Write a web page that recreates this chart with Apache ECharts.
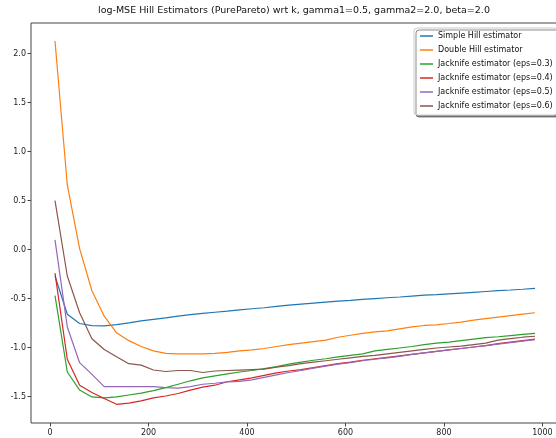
<!DOCTYPE html>
<html>
<head>
<meta charset="utf-8">
<script src="https://cdn.jsdelivr.net/npm/echarts@6/dist/echarts.min.js"></script>
<style>
  html, body { margin: 0; padding: 0; background: #fff; }
  #main { width: 556px; height: 438px; }
</style>
</head>
<body>
<div id="main"></div>
<script>
// sample sizes k
var ks = [10, 35, 60, 85, 110, 135, 160, 185, 210, 235, 260, 285, 310, 335, 360, 385, 410, 435, 460, 485,
          510, 535, 560, 585, 610, 635, 660, 685, 710, 735, 760, 785, 810, 835, 860, 885, 910, 935, 960, 985];

var simpleHill = [-0.27, -0.66, -0.755, -0.777, -0.78, -0.767, -0.748, -0.728, -0.713, -0.698,
                  -0.68, -0.665, -0.652, -0.64, -0.628, -0.615, -0.604, -0.594, -0.58, -0.568,
                  -0.557, -0.547, -0.537, -0.527, -0.518, -0.508, -0.5, -0.492, -0.484, -0.475,
                  -0.466, -0.46, -0.452, -0.444, -0.436, -0.428, -0.42, -0.413, -0.405, -0.396];
var doubleHill = [2.13, 0.66, 0.01, -0.42, -0.68, -0.85, -0.93, -0.99, -1.035, -1.06,
                  -1.065, -1.065, -1.065, -1.06, -1.05, -1.035, -1.025, -1.01, -0.99, -0.97,
                  -0.955, -0.94, -0.925, -0.895, -0.875, -0.855, -0.84, -0.83, -0.81, -0.79,
                  -0.775, -0.768, -0.755, -0.74, -0.72, -0.705, -0.69, -0.675, -0.66, -0.645];
var jack03 = [-0.47, -1.25, -1.435, -1.505, -1.515, -1.505, -1.485, -1.465, -1.44, -1.41,
              -1.375, -1.34, -1.31, -1.29, -1.27, -1.25, -1.235, -1.215, -1.195, -1.17,
              -1.15, -1.13, -1.115, -1.095, -1.08, -1.065, -1.035, -1.02, -1.005, -0.99,
              -0.97, -0.955, -0.945, -0.93, -0.915, -0.9, -0.89, -0.878, -0.866, -0.855];
var jack04 = [-0.24, -1.12, -1.385, -1.46, -1.52, -1.58, -1.568, -1.545, -1.515, -1.495,
              -1.47, -1.435, -1.405, -1.385, -1.35, -1.33, -1.31, -1.285, -1.26, -1.24,
              -1.225, -1.205, -1.185, -1.165, -1.15, -1.13, -1.115, -1.1, -1.085, -1.07,
              -1.055, -1.04, -1.025, -1.01, -0.995, -0.98, -0.96, -0.945, -0.93, -0.915];
var jack05 = [0.10, -0.79, -1.155, -1.275, -1.40, -1.40, -1.40, -1.40, -1.40, -1.41,
              -1.415, -1.4, -1.375, -1.365, -1.35, -1.345, -1.33, -1.305, -1.28, -1.255,
              -1.235, -1.21, -1.19, -1.17, -1.155, -1.135, -1.12, -1.105, -1.09, -1.07,
              -1.055, -1.04, -1.025, -1.01, -0.995, -0.98, -0.965, -0.95, -0.935, -0.92];
var jack06 = [0.50, -0.27, -0.645, -0.91, -1.02, -1.095, -1.165, -1.18, -1.23, -1.245,
              -1.235, -1.235, -1.255, -1.24, -1.235, -1.23, -1.225, -1.22, -1.2, -1.185,
              -1.165, -1.15, -1.135, -1.12, -1.105, -1.09, -1.08, -1.065, -1.05, -1.035,
              -1.02, -1.005, -0.995, -0.985, -0.97, -0.955, -0.925, -0.91, -0.895, -0.885];

var names = ['Simple Hill estimator', 'Double Hill estimator',
             'Jacknife estimator (eps=0.3)', 'Jacknife estimator (eps=0.4)',
             'Jacknife estimator (eps=0.5)', 'Jacknife estimator (eps=0.6)'];
var colors = ['#1f77b4', '#ff7f0e', '#2ca02c', '#d62728', '#9467bd', '#8c564b'];
var xTicks = [0, 200, 400, 600, 800, 1000];
var yTicks = [-1.5, -1.0, -0.5, 0.0, 0.5, 1.0, 1.5, 2.0];

var allSeries = [simpleHill, doubleHill, jack03, jack04, jack05, jack06];

function pairs(vals) {
    return ks.map(function (k, i) { return [k, vals[i]]; });
}

var chartDom = document.getElementById('main');
var myChart = echarts.init(chartDom);
var option;

option = {
    animation: false,
    color: colors,
    textStyle: { fontFamily: 'DejaVu Sans' },
    title: {
        text: 'log-MSE Hill Estimators (PurePareto) wrt k, gamma1=0.5, gamma2=2.0, beta=2.0',
        left: 98,
        top: 6,
        padding: 0,
        textStyle: { fontSize: 9.5, fontWeight: 'normal', color: '#111', fontFamily: 'DejaVu Sans' }
    },
    legend: {
        orient: 'vertical',
        left: 414,
        top: 28,
        data: names,
        icon: 'rect',
        itemWidth: 13,
        itemHeight: 1.5,
        itemGap: 4,
        padding: [3, 4, 4, 6],
        backgroundColor: '#fff',
        borderColor: '#ccc',
        borderWidth: 1,
        borderRadius: 3,
        shadowColor: 'rgba(0,0,0,0.45)',
        shadowBlur: 0,
        shadowOffsetX: 2,
        shadowOffsetY: 2,
        textStyle: { fontSize: 8, lineHeight: 10, color: '#111', fontFamily: 'DejaVu Sans' }
    },
    grid: {
        left: 31,
        right: -3,
        top: 23,
        bottom: 15,
        show: true,
        borderColor: '#444',
        borderWidth: 1,
        outerBoundsMode: 'none'
    },
    xAxis: {
        type: 'value',
        min: -38.75,
        max: 1033.75,
        splitLine: { show: false },
        axisLine: { show: false, onZero: false },
        axisTick: { show: true, length: 3.5, inside: false, customValues: xTicks, lineStyle: { color: '#444' } },
        axisLabel: {
            customValues: xTicks, margin: 6, fontSize: 8, color: '#222', fontFamily: 'DejaVu Sans',
            formatter: function (v) { return String(v); }
        }
    },
    yAxis: {
        type: 'value',
        min: -1.771,
        max: 2.314,
        splitLine: { show: false },
        axisLine: { show: false, onZero: false },
        axisTick: { show: true, length: 3.5, inside: false, customValues: yTicks, lineStyle: { color: '#444' } },
        axisLabel: {
            customValues: yTicks, margin: 5, fontSize: 8, color: '#222', fontFamily: 'DejaVu Sans',
            formatter: function (v) { return v.toFixed(1); }
        }
    },
    series: allSeries.map(function (vals, i) {
        return {
            name: names[i],
            type: 'line',
            data: pairs(vals),
            symbol: 'none',
            lineStyle: { width: 1.2, color: colors[i] },
            itemStyle: { color: colors[i] }
        };
    })
};

option && myChart.setOption(option);
</script>
</body>
</html>
